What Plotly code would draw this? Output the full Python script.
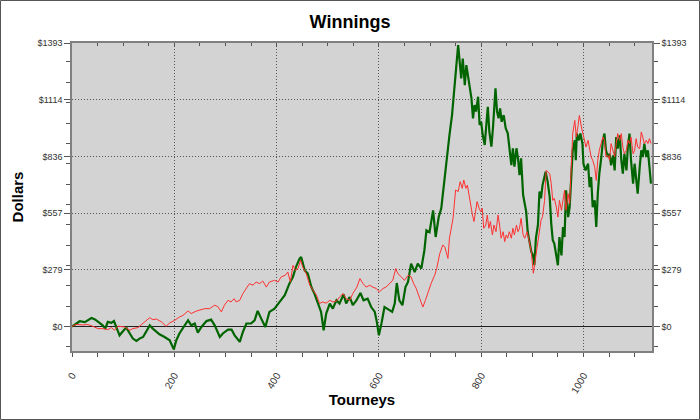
import plotly.graph_objects as go

# ---- data ----
green_t = [0,15,25,38,45,51,60,65,70,77,82,87,93,100,106,113,119,126,132,139,146,152,158,165,171,181,191,199,204,210,
           220,227,233,240,246,253,263,272,279,289,295,305,312,318,328,334,341,350,357,363,370,378,386,396,406,416,425,432,438,445,
           448,455,461,468,474,481,487,492,497,504,510,517,523,531,536,543,549,556,564,570,578,585,592,596,600,605,611,616,621,626,
           631,635,640,646,652,657,663,670,676,683,689,693,699,706,711,717,722,727,732,738,743,748,751,755,758,761,764,768,771,774,
           777,781,784,787,790,794,797,800,803,807,810,813,816,820,823,828,831,834,837,840,844,848,852,855,859,862,865,869,872,875,
           878,882,885,888,891,895,898,901,904,907,911,914,917,920,926,930,934,937,940,943,947,950,953,957,960,963,966,970,973,976,
           979,983,985,987,991,994,998,1000,1004,1009,1012,1015,1018,1022,1025,1028,1031,1035,1038,1041,1044,1048,1051,1054,1058,
           1061,1064,1067,1071,1074,1077,1080,1084,1087,1090,1093,1097,1100,1103,1106,1110,1113,1116,1119,1123,1126,1129,1132]
green_v = [0,26,22,42,35,23,6,-10,23,18,27,-5,-43,-22,-5,-34,-59,-70,-59,-51,-18,6,-10,-27,-38,-51,-67,-112,-67,-34,
           6,31,6,15,-30,-2,27,34,6,-51,-34,-15,-15,-43,-75,-27,15,15,31,77,39,-2,72,88,121,154,211,244,293,334,
           342,276,260,194,162,113,72,-18,64,113,88,129,113,159,113,145,105,129,165,129,137,96,72,23,-43,15,96,88,80,72,
           113,214,129,105,194,219,309,268,309,285,375,473,464,571,440,538,581,700,802,941,1039,1203,1268,1383,1317,1219,1317,1186,1284,1235,
           1170,1121,1023,1088,1056,1129,990,1006,941,892,990,1080,957,884,974,1170,1056,1023,1072,1006,1039,974,949,892,793,876,786,876,826,744,
           826,646,597,565,466,417,368,352,302,434,499,663,630,695,761,712,636,506,424,408,342,301,440,350,489,440,669,538,587,718,
           866,915,817,948,915,948,899,800,767,800,685,734,587,620,489,653,751,833,915,948,866,833,849,792,841,
           767,931,874,939,817,751,849,767,890,948,817,702,800,734,653,784,866,833,899,833,866,784,702]

red_t = [0,8,20,31,40,51,60,70,77,83,90,97,103,113,119,129,139,145,152,158,165,175,184,191,201,210,217,227,233,243,
         250,259,269,279,285,292,298,305,311,317,321,328,334,341,347,354,360,367,373,380,386,396,403,409,417,422,427,432,437,442,
         447,451,458,465,471,478,484,490,497,504,510,517,523,530,536,543,549,557,563,569,575,582,588,595,601,608,614,621,627,633,
         637,644,650,657,663,668,673,680,686,691,696,702,709,713,719,725,729,735,738,745,750,755,759,763,766,770,773,776,779,783,
         786,789,792,796,799,802,805,809,812,815,818,822,825,829,833,836,839,843,846,849,852,855,859,862,865,869,872,875,878,882,
         885,890,893,898,902,906,911,914,917,920,924,927,930,934,937,940,943,947,950,953,957,960,963,966,970,973,976,979,983,986,
         989,992,996,999,1002,1005,1009,1012,1015,1018,1022,1025,1028,1031,1035,1038,1041,1044,1048,1051,1054,1058,1061,1064,1067,
         1071,1074,1077,1080,1084,1087,1090,1093,1097,1100,1103,1106,1110,1113,1116,1119,1123,1126,1129,1132]
red_v = [0,11,8,10,2,-10,-10,-15,-5,-18,2,0,-2,-18,-10,-5,15,31,44,34,37,23,1,18,31,47,55,77,64,76,
         80,88,88,105,98,72,105,129,121,137,121,129,162,187,211,203,219,211,224,194,219,227,219,244,252,268,219,301,276,285,
         326,293,260,203,178,154,113,121,115,129,121,125,145,162,137,129,162,194,236,211,194,203,194,187,170,187,194,211,227,285,
         260,244,227,252,244,211,187,137,96,129,170,211,252,285,358,401,390,335,434,532,671,663,712,679,720,679,695,646,614,548,
         516,565,614,581,565,581,483,499,548,483,516,450,499,466,548,499,434,466,417,450,434,466,434,483,450,499,466,483,532,450,
         434,466,434,368,262,335,401,457,522,540,620,767,760,751,702,620,630,587,538,620,571,636,669,571,653,604,817,948,1013,931,
         980,1037,980,948,915,882,915,866,833,817,784,718,817,866,899,931,915,833,840,817,899,866,833,899,948,
         915,948,882,849,866,915,899,931,849,866,923,882,874,956,931,899,915,899,923,899]

y_major = [0, 278.6, 557.2, 835.8, 1114.4, 1393]
y_labels = ["$0", "$279", "$557", "$836", "$1114", "$1393"]
y_minor = [-100, 100, 200, 300, 400, 500, 600, 700, 800, 900, 1000, 1100, 1200, 1300]
x_major = [0, 200, 400, 600, 800, 1000]
x_range = [0, 1134]
y_range = [-120, 1393]

W, H = 700, 420
ML, MR, MT, MB = 72, 48, 43, 69
PW, PH = W - ML - MR, H - MT - MB

FAM = "Liberation Sans, Arial, sans-serif"
tickfont = dict(family=FAM, size=9, color="#333")
DOT = "1px,2px"

fig = go.Figure()
fig.add_trace(go.Scatter(x=green_t, y=green_v, mode="lines", xaxis="x", yaxis="y",
                         line=dict(color="#006400", width=2.2), showlegend=False, hoverinfo="skip"))
fig.add_trace(go.Scatter(x=red_t, y=red_v, mode="lines", xaxis="x2", yaxis="y2",
                         line=dict(color="#ff3030", width=1), showlegend=False, hoverinfo="skip"))

common_y = dict(range=y_range, tickmode="array", tickvals=y_major, ticktext=y_labels,
                ticks="outside", ticklen=6, tickcolor="#555", tickfont=tickfont,
                minor=dict(tickmode="array", tickvals=y_minor, ticks="outside", ticklen=4, tickcolor="#555", showgrid=False),
                showline=True, linecolor="#808080", linewidth=1.5, fixedrange=True, automargin=False)

fig.update_layout(
    width=W, height=H,
    margin=dict(l=ML, r=MR, t=MT, b=MB, pad=0, autoexpand=False),
    paper_bgcolor="white", plot_bgcolor="#d3d3d3",
    font=dict(family=FAM, color="#000"),
    title=dict(text="<b>Winnings</b>", x=0.5, xref="container", xanchor="center",
               y=1 - 22 / H, yref="container", yanchor="middle", automargin=False,
               font=dict(size=18, color="#000")),
    xaxis=dict(range=x_range, tickmode="array", tickvals=x_major, tickangle=-60,
               ticks="outside", ticklen=4, tickcolor="#555", tickfont=dict(family=FAM, size=10, color="#333"),
               ticklabelstandoff=9, automargin=False,
               minor=dict(dtick=50, tick0=0, ticks="outside", ticklen=4, tickcolor="#555", showgrid=False),
               showgrid=True, gridcolor="#555", griddash=DOT, gridwidth=1,
               zeroline=False, showline=True, linecolor="#808080", linewidth=1.5, fixedrange=True,
               title=dict(text="<b>Tourneys</b>", font=dict(size=15, color="#000"), standoff=0)),
    yaxis=dict(**common_y, side="left", showgrid=True, gridcolor="#555", griddash=DOT, gridwidth=1,
               zeroline=True, zerolinecolor="#222", zerolinewidth=1,
               title=dict(text="<b>Dollars</b>", font=dict(size=15, color="#000"), standoff=10)),
    xaxis2=dict(range=x_range, overlaying="x", side="top", tickmode="array", tickvals=x_major,
                ticks="inside", ticklen=3, tickcolor="#555", showticklabels=False, automargin=False,
                minor=dict(dtick=50, tick0=0, ticks="inside", ticklen=3, tickcolor="#555", showgrid=False),
                showgrid=False, zeroline=False, showline=True, linecolor="#808080", linewidth=2, fixedrange=True),
    yaxis2=dict(**common_y, side="right", overlaying="y", showgrid=False, zeroline=False),
    shapes=[dict(type="rect", xref="paper", yref="paper",
                 x0=(-ML + 0.5) / PW, x1=1 + (MR - 0.5) / PW,
                 y0=(-MB + 0.5) / PH, y1=1 + (MT - 0.5) / PH,
                 line=dict(color="#555", width=1), layer="above")],
)

fig.write_html("out.html", config={"displayModeBar": False},
               post_script="document.body.style.margin='0';document.body.style.overflow='hidden';")
